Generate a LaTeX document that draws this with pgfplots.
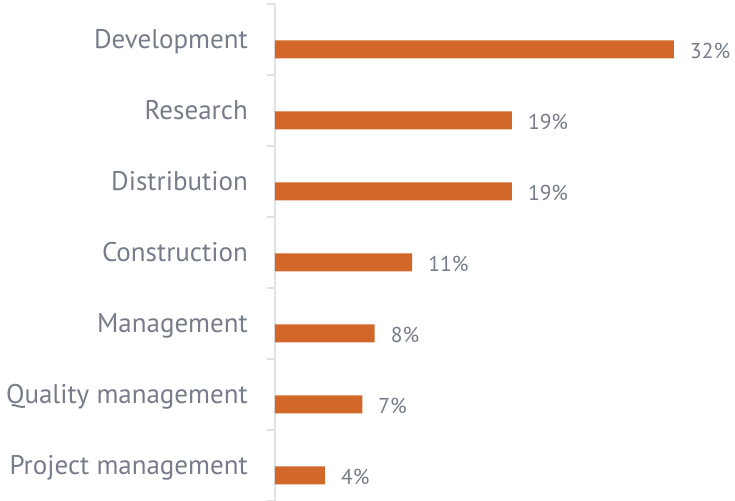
\documentclass[border=0pt]{standalone}
\usepackage{pgfplots}
\pgfplotsset{compat=1.18}
\usepackage{fontspec}
\setmainfont{PT Sans}
\usepackage{xcolor}
\definecolor{barOrange}{HTML}{D2672A}
\definecolor{txtGray}{HTML}{767C8A}
\definecolor{axGray}{HTML}{E0E2E7}
\begin{document}
\begin{tikzpicture}
\begin{axis}[
  scale only axis,
  width=460pt, height=497pt,
  xmin=0, xmax=36.9,
  ymin=0, ymax=7,
  axis y line*=left,
  axis x line=none,
  xtick=\empty,
  y axis line style={draw=axGray, line width=1.5pt},
  ytick={0.5,1.5,2.5,3.5,4.5,5.5,6.5},
  yticklabels={Project management,Quality management,Management,Construction,Distribution,Research,Development},
  major tick length=0pt,
  yticklabel style={font=\fontsize{27}{30}\selectfont, color=txtGray, anchor=east,
    inner sep=0pt, text height=0.7em, text depth=0pt, xshift=-27pt, yshift=-6pt},
  extra y ticks={0,1,2,3,4,5,6,7},
  extra y tick labels={},
  extra y tick style={major tick length=8pt, tick align=outside,
    tick style={draw=axGray, line width=1.2pt}},
  xbar, bar width=18pt, bar shift=0pt,
  clip=false,
  point meta=x,
  nodes near coords={\pgfmathprintnumber{\pgfplotspointmeta}\%},
  nodes near coords style={font=\fontsize{21.5}{25}\selectfont, color=txtGray,
    anchor=west, inner sep=0pt, xshift=16pt, yshift=-2pt,
    /pgf/number format/assume math mode=true},
]
\addplot[fill=barOrange, draw=none] coordinates {
  (4,0.36) (7,1.36) (8,2.36) (11,3.36) (19,4.36) (19,5.36) (32,6.36)
};
\end{axis}
\pgfresetboundingbox
\path ([xshift=-275pt]current axis.south west) rectangle ([xshift=460pt,yshift=4pt]current axis.north west);
\end{tikzpicture}
\end{document}
